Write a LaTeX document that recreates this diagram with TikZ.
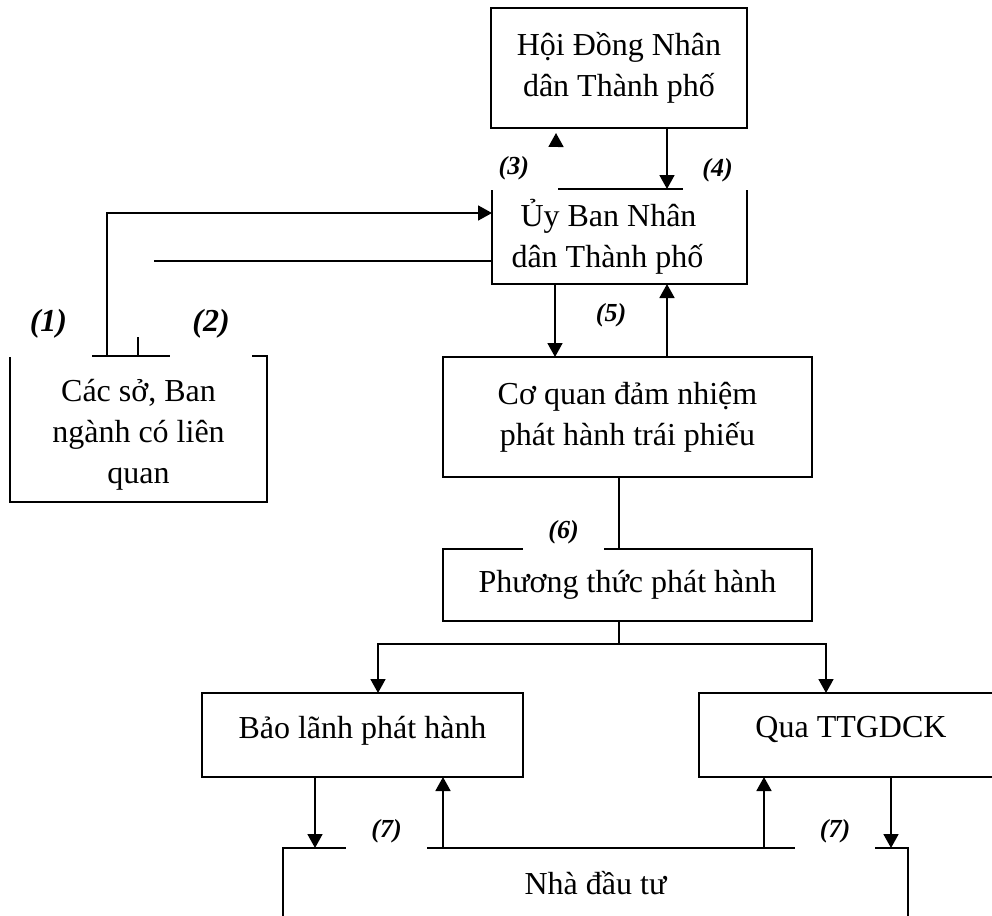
\documentclass[tikz,border=0pt]{standalone}
\usepackage{fontspec}
\setmainfont{Liberation Serif}
\usetikzlibrary{arrows.meta}
\begin{document}
\begin{tikzpicture}[x=0.5pt, y=-0.5pt,
  box/.style={draw, line width=0.9pt, inner sep=0pt, outer sep=0pt, align=center,
    font=\fontsize{16pt}{20.5pt}\selectfont},
  link/.style={line width=0.9pt},
  arr/.style={link, -{Triangle[length=7pt, width=7.5pt]}},
  tag/.style={fill=white, inner sep=0pt,
    font=\fontsize{13pt}{15pt}\selectfont\bfseries\itshape},
  bigtag/.style={tag, font=\fontsize{16pt}{18pt}\selectfont\bfseries\itshape}]

\useasboundingbox (0,0) rectangle (992,916);

% ---- boxes ----
\node[box, minimum width=128pt, minimum height=60pt] (hdnd) at (619,68)
  {Hội Đồng Nhân\\dân Thành phố};
\node[box, minimum width=127.5pt, minimum height=47.5pt] (ubnd) at (619.5,236.5)
  {Ủy Ban Nhân\kern11pt\\dân Thành phố\kern12pt};
\node[box, minimum width=128.5pt, minimum height=73pt] (cacso) at (138.5,429)
  {\rule{0pt}{17pt}Các sở, Ban\\ngành có liên\\quan};
\node[box, minimum width=184.5pt, minimum height=60pt] (coquan) at (627.5,417)
  {Cơ quan đảm nhiệm\\phát hành trái phiếu};
\node[box, minimum width=184.5pt, minimum height=36pt] (ptph) at (627.5,585)
  {Phương thức phát hành};
\node[box, minimum width=160.5pt, minimum height=42pt, text depth=8pt] (baolanh)
  at (362.5,735) {Bảo lãnh phát hành};
\node[box, minimum width=152pt, minimum height=42pt, text depth=8pt] (qua)
  at (851,735) {Qua TTGDCK};
\node[box, minimum width=312.5pt, minimum height=35pt] (nha) at (595.5,883)
  {Nhà đầu tư};

% ---- connectors ----
\draw[arr] (667,0 |- hdnd.south) -- (667,0 |- ubnd.north);
\draw[arr, shorten >=2.5pt] (556,0 |- ubnd.north) -- (556,0 |- hdnd.south);

\draw[arr] (107,0 |- cacso.north) |- (ubnd.west |- 0,213);
\coordinate (c2a) at (154,261);
\coordinate (c2b) at (138,337);
\draw[link] (ubnd.west |- c2a) -- (c2a);
\draw[link] (c2b) -- (c2b |- cacso.north);

\draw[arr] (555,0 |- ubnd.south) -- (555,0 |- coquan.north);
\draw[arr] (667,0 |- coquan.north) -- (667,0 |- ubnd.south);

\draw[link] (619,0 |- coquan.south) -- (619,0 |- ptph.north);
\coordinate (split) at (619,644);
\draw[link] (ptph.south -| split) -- (split);
\draw[arr] (split) -| (378,0 |- baolanh.north);
\draw[arr] (split) -| (826,0 |- qua.north);

\draw[arr] (315,0 |- baolanh.south) -- (315,0 |- nha.north);
\draw[arr] (443,0 |- nha.north) -- (443,0 |- baolanh.south);
\draw[arr] (764,0 |- nha.north) -- (764,0 |- qua.south);
\draw[arr] (891,0 |- qua.south) -- (891,0 |- nha.north);

% ---- step labels (white backing) ----
\node[bigtag, minimum width=43.5pt, minimum height=33.4pt] (t1) at (48.5,323.4) {(1)};
\node[bigtag, minimum width=41pt, minimum height=33.4pt] (t2) at (211,323.4) {(2)};
\node[tag, minimum width=43.75pt, minimum height=21.5pt] (t3) at (513.75,168.5) {(3)};
\node[tag, minimum width=34.5pt, minimum height=20pt] (t4) at (717.5,170) {(4)};
\node[tag, minimum width=41pt, minimum height=30.7pt] (t5) at (611,315.3) {(5)};
\node[tag, minimum width=40.5pt, minimum height=17.4pt] (t6) at (563.5,532.4) {(6)};
\node[tag, minimum width=40.5pt, minimum height=17.9pt] (t7a) at (386.5,830.9) {(7)};
\node[tag, minimum width=40pt, minimum height=17.9pt] (t7b) at (835,830.9) {(7)};
\end{tikzpicture}
\end{document}
